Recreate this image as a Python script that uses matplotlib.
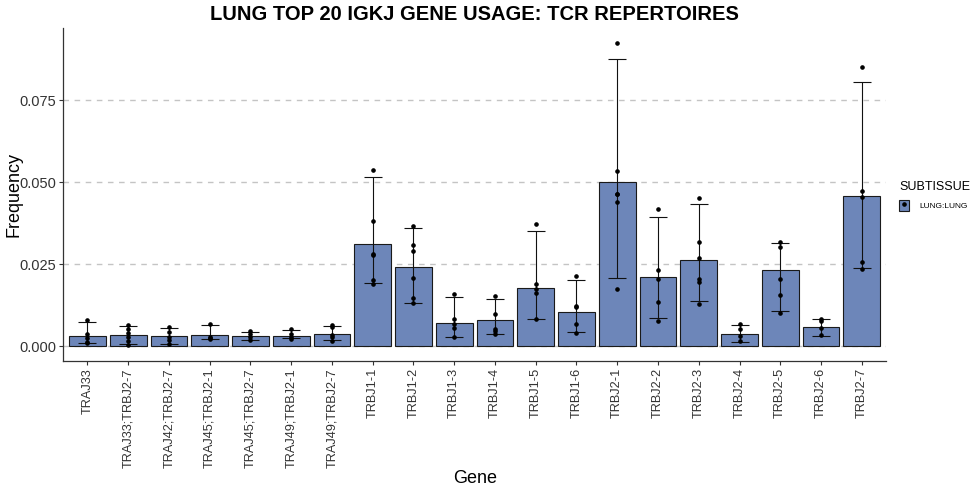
import numpy as np
import matplotlib
matplotlib.use('Agg')
import matplotlib.pyplot as plt
from matplotlib.patches import Patch
from matplotlib.lines import Line2D
from matplotlib.legend_handler import HandlerTuple

plt.rcParams['font.family'] = ['Liberation Sans', 'DejaVu Sans']

genes = ['TRAJ33', 'TRAJ33;TRBJ2-7', 'TRAJ42;TRBJ2-7', 'TRAJ45;TRBJ2-1',
         'TRAJ45;TRBJ2-7', 'TRAJ49;TRBJ2-1', 'TRAJ49;TRBJ2-7', 'TRBJ1-1',
         'TRBJ1-2', 'TRBJ1-3', 'TRBJ1-4', 'TRBJ1-5', 'TRBJ1-6', 'TRBJ2-1',
         'TRBJ2-2', 'TRBJ2-3', 'TRBJ2-4', 'TRBJ2-5', 'TRBJ2-6', 'TRBJ2-7']

mean_freq = [0.0032, 0.0033, 0.0030, 0.0033, 0.0030, 0.0030, 0.0037, 0.0311,
             0.0242, 0.0070, 0.0080, 0.0177, 0.0104, 0.0500, 0.0211, 0.0262,
             0.0036, 0.0231, 0.0059, 0.0457]
err_low = [0.0010, 0.0006, 0.0005, 0.0021, 0.0018, 0.0024, 0.0018, 0.0191,
           0.0132, 0.0029, 0.0037, 0.0084, 0.0042, 0.0208, 0.0085, 0.0138,
           0.0013, 0.0108, 0.0032, 0.0237]
err_high = [0.0074, 0.0060, 0.0054, 0.0063, 0.0042, 0.0049, 0.0062, 0.0517,
            0.0359, 0.0149, 0.0145, 0.0350, 0.0203, 0.0876, 0.0394, 0.0435,
            0.0065, 0.0315, 0.0084, 0.0806]
samples = [
    [0.0079, 0.0036, 0.0024, 0.0013, 0.0009],
    [0.0063, 0.0051, 0.0039, 0.0027, 0.0016, 0.0004],
    [0.0057, 0.0044, 0.0027, 0.0019, 0.0005],
    [0.0068, 0.0029, 0.0025, 0.0021],
    [0.0045, 0.0036, 0.0029, 0.0019],
    [0.0051, 0.0037, 0.0027, 0.0023],
    [0.0065, 0.0057, 0.0033, 0.0027, 0.0016],
    [0.0536, 0.0382, 0.0281, 0.0279, 0.0203, 0.0189],
    [0.0366, 0.0307, 0.0290, 0.0209, 0.0147, 0.0130],
    [0.0158, 0.0084, 0.0068, 0.0055, 0.0029],
    [0.0153, 0.0097, 0.0051, 0.0046, 0.0036],
    [0.0372, 0.0189, 0.0173, 0.0161, 0.0084],
    [0.0214, 0.0123, 0.0120, 0.0067, 0.0039],
    [0.0925, 0.0534, 0.0465, 0.0463, 0.0439, 0.0175],
    [0.0417, 0.0231, 0.0205, 0.0136, 0.0077],
    [0.0451, 0.0319, 0.0270, 0.0206, 0.0197, 0.0129],
    [0.0067, 0.0052, 0.0032, 0.0014],
    [0.0317, 0.0302, 0.0204, 0.0155, 0.0101],
    [0.0084, 0.0077, 0.0054, 0.0033],
    [0.0852, 0.0472, 0.0454, 0.0256, 0.0235],
]
subtissue = 'LUNG:LUNG'
yticks = [0.0, 0.025, 0.05, 0.075]

bar_color = '#6D86B9'
x = np.arange(len(genes))
mean_arr = np.array(mean_freq)

fig = plt.figure(figsize=(9.8, 4.9), dpi=100)
ax = fig.add_axes([0.0643, 0.263, 0.840, 0.680])

ax.set_axisbelow(True)
ax.yaxis.grid(True, color='#c4c4c4', linestyle=(0, (4, 4)), linewidth=1.0)
ax.xaxis.grid(False)

ax.bar(x, mean_arr, width=0.9, color=bar_color, edgecolor='#1a1a1a',
       linewidth=0.8, zorder=2)
ax.errorbar(x, mean_arr,
            yerr=[mean_arr - np.array(err_low), np.array(err_high) - mean_arr],
            fmt='none', ecolor='#111111', elinewidth=0.8, capsize=6.7,
            capthick=0.8, zorder=3)
for i, vals in enumerate(samples):
    ax.plot([x[i]] * len(vals), vals, 'o', color='black', markersize=2.3,
            zorder=4)

ax.set_xlim(-0.6, len(genes) - 0.4)
ax.set_ylim(-0.0046, 0.0971)
ax.set_yticks(yticks)
ax.set_yticklabels([f'{v:.3f}' for v in yticks], fontsize=10.5, color='#333333')
ax.set_xticks(x)
ax.set_xticklabels(genes, rotation=90, fontsize=9.2, color='#333333')
ax.tick_params(axis='both', length=3, width=0.8, color='#333333', pad=2)

for side in ['top', 'right']:
    ax.spines[side].set_visible(False)
for side in ['left', 'bottom']:
    ax.spines[side].set_color('#333333')
    ax.spines[side].set_linewidth(0.9)

fig.text(0.4845, 1 - 478 / 490, 'Gene', fontsize=13, ha='center', va='center')
fig.text(14 / 980, 0.263 + 0.34, 'Frequency', fontsize=13, rotation=90,
         ha='center', va='center')
fig.text(0.4845, 1 - 14 / 490, 'LUNG TOP 20 IGKJ GENE USAGE: TCR REPERTOIRES',
         fontsize=14.5, fontweight='bold', ha='center', va='center')

handle = (Patch(facecolor=bar_color, edgecolor='#1a1a1a', linewidth=0.8),
          Line2D([], [], marker='o', color='black', linestyle='none',
                 markersize=2.3))
leg = fig.legend([handle], [subtissue], title='SUBTISSUE', loc='upper left',
                 bbox_to_anchor=(0.910, 0.646), frameon=False, fontsize=6,
                 title_fontsize=9, handlelength=1.2, handleheight=1.5,
                 handletextpad=1.2, alignment='left', labelspacing=0.9,
                 handler_map={tuple: HandlerTuple(ndivide=1)})

fig.savefig('out.png', dpi=100)
